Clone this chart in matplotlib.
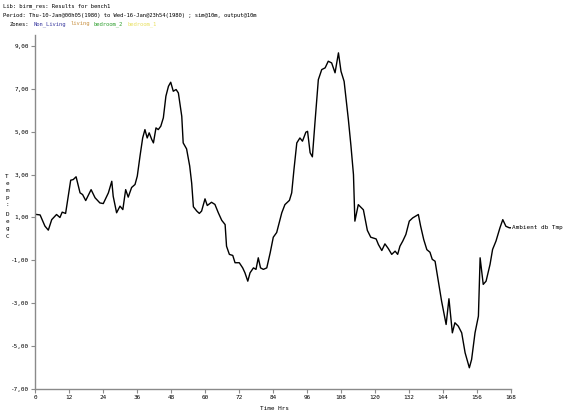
import matplotlib
matplotlib.use("Agg")
import matplotlib.pyplot as plt
from matplotlib.transforms import offset_copy

hours = [0, 1.8, 3.5, 4.7, 5.9, 7.6, 8.8, 9.6, 10.8, 12.6, 13.5, 14.5, 15.9, 16.8, 17.9,
         19.8, 21.2, 22.9, 24.1, 25.9, 27.1, 27.6, 28.8, 30.0, 31.0, 32.0, 32.9, 34.1, 35.3,
         36.1, 37.1, 38.0, 38.8, 39.6, 40.3, 41.2, 41.8, 42.7, 43.5, 44.4, 45.3, 46.2, 47.1,
         47.9, 48.8, 49.8, 50.6, 51.8, 52.3, 53.5, 54.6, 55.3, 55.9, 57.1, 58.0, 58.8, 60.0,
         60.8, 62.3, 63.5, 64.7, 65.9, 67.1, 67.6, 68.6, 69.8, 70.6, 72.1, 73.3, 74.1, 75.1,
         75.9, 77.1, 78.0, 78.8, 79.6, 80.6, 81.8, 83.0, 84.1, 85.3, 86.2, 87.1, 88.2, 89.8,
         90.6, 91.4, 92.4, 93.5, 94.4, 95.6, 96.2, 97.1, 97.9, 98.8, 100.0, 101.2, 102.4,
         103.5, 104.7, 105.9, 107.1, 108.0, 109.1, 110.6, 111.5, 112.4, 112.9, 114.1, 115.9,
         117.3, 118.5, 120.4, 121.2, 122.4, 123.5, 124.7, 125.9, 127.1, 128.0, 128.8, 129.8,
         130.9, 132.1, 133.3, 135.3, 136.1, 137.2, 138.3, 139.4, 140.2, 141.2, 142.4, 143.5,
         145.1, 146.1, 147.3, 148.2, 149.4, 150.6, 151.8, 153.3, 154.1, 155.3, 156.5, 157.1,
         158.2, 159.2, 160.6, 161.5, 162.7, 164.1, 165.1, 166.2, 167.4, 168.0]
temps = [1.15, 1.12, 0.6, 0.41, 0.9, 1.14, 1.0, 1.25, 1.19, 2.74, 2.77, 2.9, 2.15, 2.07, 1.79,
         2.3, 1.92, 1.68, 1.65, 2.15, 2.69, 1.99, 1.22, 1.53, 1.37, 2.3, 1.95, 2.4, 2.54,
         2.93, 3.9, 4.71, 5.1, 4.71, 4.95, 4.64, 4.48, 5.18, 5.1, 5.26, 5.65, 6.66, 7.12,
         7.31, 6.89, 6.97, 6.81, 5.72, 4.48, 4.2, 3.4, 2.6, 1.5, 1.3, 1.19, 1.3, 1.87,
         1.56, 1.71, 1.61, 1.22, 0.87, 0.67, -0.34, -0.72, -0.77, -1.11, -1.11, -1.35, -1.58, -1.97,
         -1.58, -1.35, -1.42, -0.88, -1.35, -1.42, -1.35, -0.65, 0.08, 0.3, 0.75, 1.22, 1.6, 1.8,
         2.15, 3.24, 4.48, 4.71, 4.56, 4.98, 5.02, 4.02, 3.83, 5.41, 7.43, 7.9, 7.98,
         8.29, 8.21, 7.75, 8.68, 7.82, 7.35, 5.57, 4.36, 3.0, 0.83, 1.6, 1.36,
         0.4, 0.08, 0.0, -0.26, -0.54, -0.23, -0.45, -0.72, -0.57, -0.72, -0.34, -0.1,
         0.21, 0.83, 0.98, 1.14, 0.6, -0.03, -0.5, -0.62, -0.95, -1.04, -2.0, -2.9,
         -3.99, -2.79, -4.38, -3.91, -4.07, -4.38, -5.31, -6.01, -5.62, -4.38, -3.6, -0.88,
         -2.12, -1.97, -1.19, -0.49, -0.1, 0.52, 0.9, 0.59, 0.52, 0.52]

xticks = [0, 12, 24, 36, 48, 60, 72, 84, 96, 108, 120, 132, 144, 156, 168]
yticks = [9, 7, 5, 3, 1, -1, -3, -5, -7]
ytick_labels = ["9,00", "7,00", "5,00", "3,00", "1,00", "-1,00", "-3,00", "-5,00", "-7,00"]
series_label = "Ambient db Tmp"
zones = ["Non_Living", "living", "bedroom_2", "bedroom_1"]
zone_colors = ["#3a3aa0", "#c89040", "#30a030", "#e8e060"]

FONT = "DejaVu Sans Mono"
FS = 4.3
HFS = 4.0
W, H = 567, 415
fig = plt.figure(figsize=(W / 100, H / 100), dpi=100)
fig.patch.set_facecolor("white")

left, right = 35 / W, 511 / W
bottom = (H - 389) / H
top_px = 35.3
ax = fig.add_axes([left, bottom, right - left, (389 - top_px) / H])
ax.plot(hours, temps, color="black", lw=1.0)
ax.set_xlim(0, 168)
ax.set_ylim(-7, 9 + (46 - top_px) / 21.44)

for s in ["top", "right"]:
    ax.spines[s].set_visible(False)
for s in ["left", "bottom"]:
    ax.spines[s].set_color("#8a8a8a")
    ax.spines[s].set_linewidth(1.0)

ax.set_xticks(xticks)
ax.set_xticklabels([str(v) for v in xticks], family=FONT, fontsize=FS)
ax.set_yticks(yticks)
ax.set_yticklabels(ytick_labels, family=FONT, fontsize=FS)
ax.tick_params(axis="both", color="#8a8a8a", length=3, width=0.8, pad=1.5)

ax.annotate(series_label, xy=(hours[-1], temps[-1]), xytext=(0.5, 0),
            textcoords="offset points", ha="left", va="center",
            family=FONT, fontsize=FS, annotation_clip=False)

fig.text(274 / W, 1 - 408 / H, "Time Hrs", family=FONT, fontsize=FS,
         ha="center", va="center")

# vertical stacked y label
ylab = "Temp:"
ylab2 = "DegC"
for i, ch in enumerate(ylab):
    fig.text(7 / W, 1 - (176 + i * 7.2) / H, ch, family=FONT, fontsize=FS,
             ha="center", va="center")
for i, ch in enumerate(ylab2):
    fig.text(7 / W, 1 - (214 + i * 7.4) / H, ch, family=FONT, fontsize=FS,
             ha="center", va="center")

fig.text(3 / W, 1 - 6 / H, "Lib: birm_res: Results for bench1",
         family=FONT, fontsize=HFS, ha="left", va="center")
fig.text(3 / W, 1 - 15 / H,
         "Period: Thu-10-Jan@00h05(1980) to Wed-16-Jan@23h54(1980) ; sim@10m, output@10m",
         family=FONT, fontsize=HFS, ha="left", va="center")

cw = 0.6021 * HFS  # monospace char width in points
x0 = 10 / W
y0 = 1 - 24 / H
fig.text(x0, y0, "Zones:", family=FONT, fontsize=HFS, ha="left", va="center")
pos = len("Zones: ")
for z, c in zip(zones, zone_colors):
    tr = offset_copy(fig.transFigure, fig=fig, x=pos * cw, y=0, units="points")
    fig.text(x0, y0, z, family=FONT, fontsize=HFS, ha="left", va="center",
             color=c, transform=tr)
    pos += len(z) + 1

fig.savefig("out.png", dpi=100, facecolor="white")
